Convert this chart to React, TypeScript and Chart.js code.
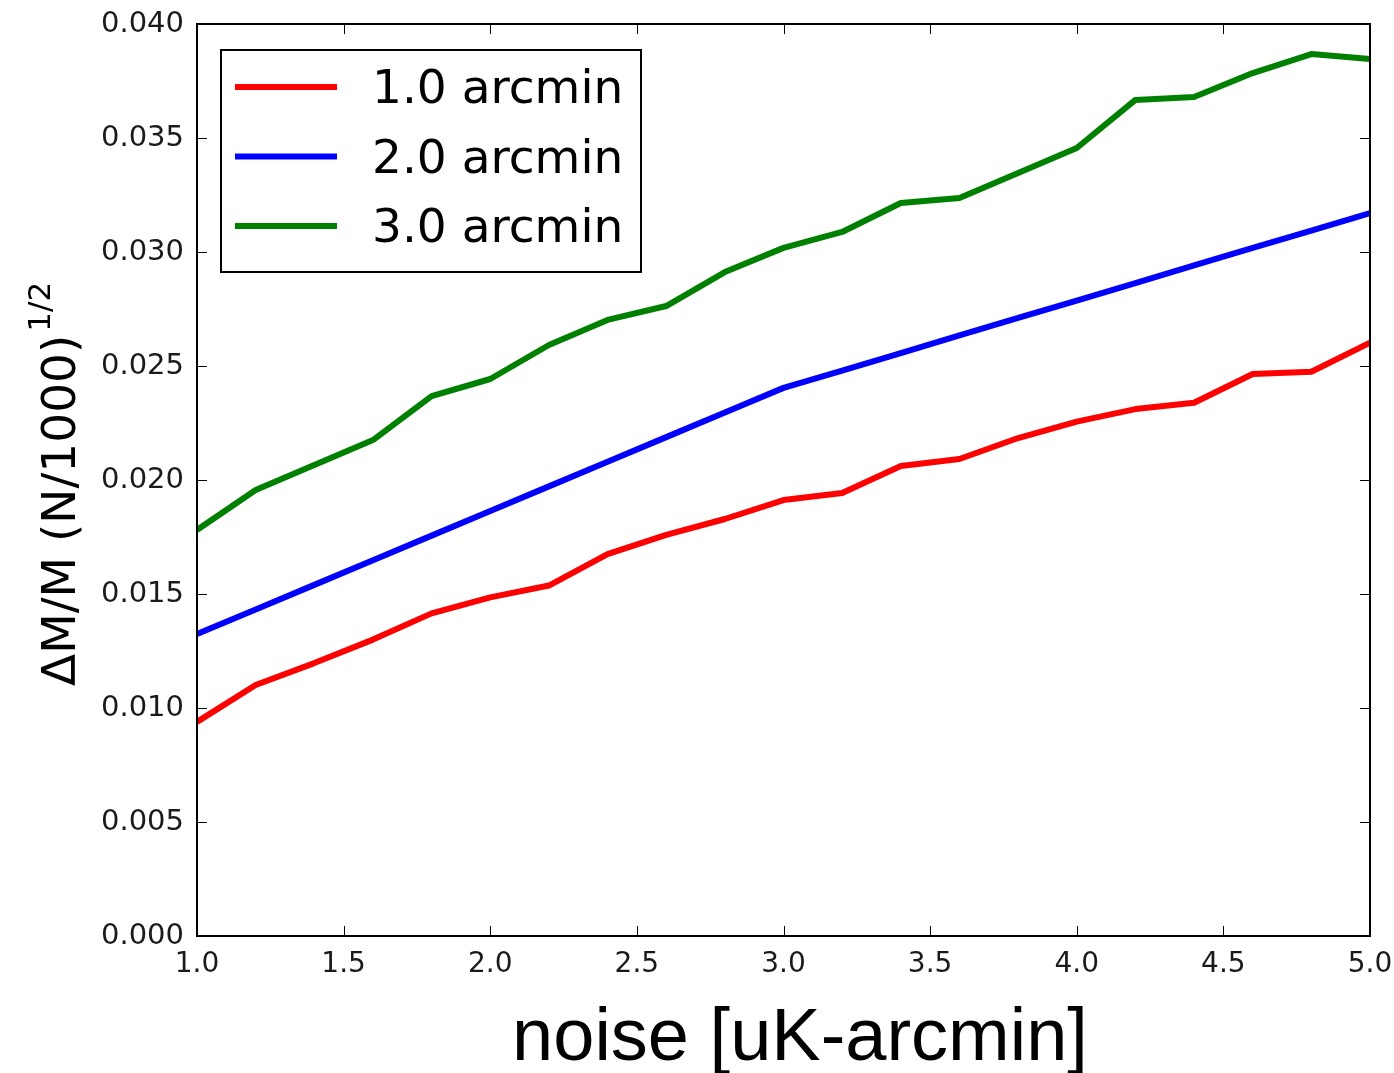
import React, { useEffect, useRef } from "react";
import { Chart, registerables } from "chart.js";

Chart.register(...registerables);

const noise = [1.0, 1.2, 1.4, 1.6, 1.8, 2.0, 2.2, 2.4, 2.6, 2.8, 3.0, 3.2, 3.4, 3.6, 3.8, 4.0, 4.2, 4.4, 4.6, 4.8, 5.0];

const beam1 = [0.00939, 0.01101, 0.01197, 0.013, 0.01415, 0.01485, 0.01537, 0.01675, 0.01759, 0.01829, 0.01912, 0.01943, 0.02061, 0.02092, 0.02184, 0.02256, 0.02311, 0.02339, 0.02465, 0.02475, 0.02602];
const beam2 = [0.01325, 0.01432, 0.0154, 0.01648, 0.01756, 0.01864, 0.01972, 0.0208, 0.02188, 0.02296, 0.02404, 0.0248, 0.02557, 0.02634, 0.02711, 0.02787, 0.02864, 0.02941, 0.03018, 0.03094, 0.03171];
const beam3 = [0.01781, 0.01956, 0.02066, 0.02175, 0.02368, 0.02443, 0.02592, 0.02702, 0.02763, 0.02912, 0.03018, 0.03088, 0.03215, 0.03237, 0.03346, 0.03456, 0.03667, 0.0368, 0.03785, 0.03868, 0.03846];

const seriesLabels = ["1.0 arcmin", "2.0 arcmin", "3.0 arcmin"];
const seriesColors = ["#ff0000", "#0000ff", "#008000"];

const xTitle = "noise [uK-arcmin]";
const yTitleMain = "\u0394M/M (N/1000)";
const yTitleSup = "1/2";

const mplPlugin = {
  id: "mplDecor",
  afterDraw(chart: any) {
    const ctx = chart.ctx as CanvasRenderingContext2D;
    const { left, right, top, bottom } = chart.chartArea;
    const xs = chart.scales.x;
    const ys = chart.scales.y;
    ctx.save();
    // inward ticks
    ctx.strokeStyle = "#000";
    ctx.lineWidth = 1;
    const tl = 10;
    xs.ticks.forEach((t: any) => {
      const px = Math.round(xs.getPixelForValue(t.value)) + 0.5;
      ctx.beginPath();
      ctx.moveTo(px, bottom);
      ctx.lineTo(px, bottom - tl);
      ctx.moveTo(px, top);
      ctx.lineTo(px, top + tl);
      ctx.stroke();
    });
    ys.ticks.forEach((t: any) => {
      const py = Math.round(ys.getPixelForValue(t.value)) + 0.5;
      ctx.beginPath();
      ctx.moveTo(left, py);
      ctx.lineTo(left + tl, py);
      ctx.moveTo(right, py);
      ctx.lineTo(right - tl, py);
      ctx.stroke();
    });
    // frame
    ctx.lineWidth = 2;
    ctx.strokeRect(left, top, right - left, bottom - top);

    // legend
    const lx = left + 24;
    const ly = top + 26;
    const lw = 420;
    const lh = 222;
    ctx.fillStyle = "#fff";
    ctx.fillRect(lx, ly, lw, lh);
    ctx.lineWidth = 2;
    ctx.strokeStyle = "#000";
    ctx.strokeRect(lx, ly, lw, lh);
    ctx.font = "47px 'DejaVu Sans'";
    ctx.textAlign = "left";
    ctx.textBaseline = "alphabetic";
    chart.data.datasets.forEach((ds: any, i: number) => {
      const cy = ly + 37 + i * 69.5;
      ctx.strokeStyle = ds.borderColor;
      ctx.lineWidth = 6;
      ctx.beginPath();
      ctx.moveTo(lx + 14, cy);
      ctx.lineTo(lx + 116, cy);
      ctx.stroke();
      ctx.fillStyle = "#000";
      ctx.fillText(ds.label, lx + 151, cy + 16);
    });

    // y title
    ctx.save();
    ctx.translate(75, 686);
    ctx.rotate(-Math.PI / 2);
    ctx.fillStyle = "#000";
    ctx.font = "47px 'DejaVu Sans'";
    ctx.textAlign = "left";
    ctx.textBaseline = "alphabetic";
    ctx.fillText(yTitleMain, 0, 0);
    const w = ctx.measureText(yTitleMain).width;
    ctx.font = "31px 'DejaVu Sans'";
    ctx.fillText(yTitleSup, w + 3, -25);
    ctx.restore();

    // x title
    ctx.fillStyle = "#000";
    ctx.font = "74px 'Liberation Sans'";
    ctx.textAlign = "center";
    ctx.textBaseline = "alphabetic";
    ctx.fillText(xTitle, 800, 1060);
    ctx.restore();
  },
};

export default function App() {
  const ref = useRef<HTMLCanvasElement>(null);
  useEffect(() => {
    if (!ref.current) return;
    const series = [beam1, beam2, beam3];
    const chart = new Chart(ref.current, {
      type: "line",
      data: {
        datasets: series.map((arr, i) => ({
          label: seriesLabels[i],
          data: noise.map((x, j) => ({ x, y: arr[j] })),
          borderColor: seriesColors[i],
          backgroundColor: seriesColors[i],
          borderWidth: 6,
          pointRadius: 0,
          tension: 0,
          fill: false,
          borderJoinStyle: "round",
          borderCapStyle: "butt",
        })),
      },
      options: {
        responsive: false,
        devicePixelRatio: 1,
        animation: false,
        layout: { padding: { top: 24, right: 24, left: 0, bottom: 0 } },
        plugins: {
          legend: { display: false },
          tooltip: { enabled: false },
          title: { display: false },
        },
        scales: {
          x: {
            type: "linear",
            min: 1,
            max: 5,
            grid: { display: false, drawTicks: false },
            border: { display: false },
            ticks: {
              stepSize: 0.5,
              autoSkip: false,
              maxRotation: 0,
              padding: 12,
              color: "#1a1a1a",
              font: { family: "'DejaVu Sans'", size: 28 },
              callback: (v: any) => Number(v).toFixed(1),
            },
            afterFit: (s: any) => {
              s.height = 137;
              s.paddingLeft = 0;
              s.paddingRight = 0;
              s.paddingTop = 0;
              s.paddingBottom = 0;
            },
          },
          y: {
            type: "linear",
            min: 0,
            max: 0.04,
            grid: { display: false, drawTicks: false },
            border: { display: false },
            ticks: {
              stepSize: 0.005,
              autoSkip: false,
              padding: 13,
              color: "#1a1a1a",
              font: { family: "'DejaVu Sans'", size: 29 },
              callback: (v: any) => Number(v).toFixed(3),
            },
            afterFit: (s: any) => {
              s.width = 197;
              s.paddingLeft = 0;
              s.paddingRight = 0;
              s.paddingTop = 0;
              s.paddingBottom = 0;
            },
          },
        },
      },
      plugins: [mplPlugin],
    });
    return () => chart.destroy();
  }, []);
  return (
    <div style={{ position: "fixed", left: 0, top: 0, width: 1394, height: 1073, background: "#fff" }}>
      <canvas ref={ref} width={1394} height={1073} style={{ display: "block" }} />
    </div>
  );
}
